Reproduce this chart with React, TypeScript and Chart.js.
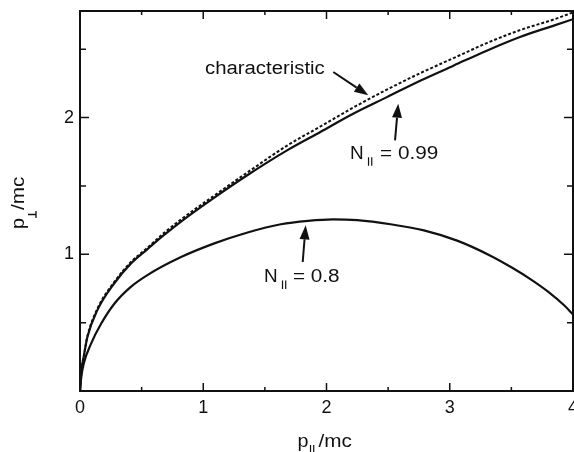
import React, { useEffect, useRef } from "react";
import { Chart, registerables } from "chart.js";

Chart.register(...registerables);

// N_|| = 0.8 resonance curve
const n08X = [0, 0.01, 0.03, 0.09, 0.17, 0.28, 0.41, 0.55, 0.82, 1.09, 1.36, 1.63, 1.85, 2.05, 2.25, 2.52, 2.79, 3.06, 3.33, 3.5, 3.66, 3.8, 3.93, 4.0];
const n08Y = [0, 0.1, 0.2, 0.347, 0.49, 0.64, 0.76, 0.85, 0.98, 1.08, 1.16, 1.22, 1.245, 1.256, 1.25, 1.22, 1.175, 1.1, 0.99, 0.905, 0.815, 0.725, 0.625, 0.56];

// N_|| = 0.99 resonance curve
const n099X = [0, 0.01, 0.03, 0.06, 0.14, 0.28, 0.41, 0.55, 0.68, 0.82, 1.09, 1.36, 1.68, 1.95, 2.22, 2.49, 2.76, 3.03, 3.3, 3.57, 3.85, 4.0];
const n099Y = [0, 0.14, 0.25, 0.395, 0.59, 0.79, 0.93, 1.04, 1.14, 1.24, 1.415, 1.58, 1.76, 1.895, 2.03, 2.15, 2.27, 2.38, 2.49, 2.59, 2.675, 2.72];

// characteristic (dashed)
const charX = [0, 0.01, 0.03, 0.06, 0.14, 0.28, 0.41, 0.55, 0.68, 0.82, 1.09, 1.36, 1.68, 1.95, 2.22, 2.49, 2.76, 3.03, 3.3, 3.57, 3.85, 4.0];
const charY = [0, 0.14, 0.25, 0.4, 0.6, 0.8, 0.94, 1.05, 1.155, 1.255, 1.43, 1.6, 1.795, 1.935, 2.075, 2.205, 2.325, 2.435, 2.545, 2.64, 2.72, 2.77];

// axes
const xMin = 0;
const xMax = 4;
const yMin = 0;
const yMax = 2.78;
const tickStep = 0.5;
const xTickLabels = ["0", "1", "2", "3", "4"];
const yTickLabels = ["1", "2"];

// annotations (data coordinates)
const annCharText = "characteristic";
const annCharPos = [1.014, 2.322];
const annCharArrow = [2.055, 2.334, 2.339, 2.163];
const ann099Text = "= 0.99";
const ann099Pos = [2.191, 1.7];
const ann099Arrow = [2.556, 1.834, 2.582, 2.102];
const ann08Text = "= 0.8";
const ann08Pos = [1.493, 0.797];
const ann08Arrow = [1.807, 0.944, 1.831, 1.212];

const FONT = '"Liberation Sans", Arial, Helvetica, sans-serif';
const INK = "#111";

function zip(xs: number[], ys: number[]) {
  return xs.map((x, i) => ({ x, y: ys[i] }));
}

function txt(ctx: CanvasRenderingContext2D, s: string, x: number, y: number, size: number, sx = 1) {
  ctx.save();
  ctx.font = `${size}px ${FONT}`;
  ctx.textAlign = "left";
  ctx.textBaseline = "alphabetic";
  ctx.translate(x, y);
  ctx.scale(sx, 1);
  ctx.fillText(s, 0, 0);
  const w = ctx.measureText(s).width * sx;
  ctx.restore();
  return w;
}

function arrow(ctx: CanvasRenderingContext2D, x1: number, y1: number, x2: number, y2: number) {
  const ang = Math.atan2(y2 - y1, x2 - x1);
  const hl = 14;
  const hw = 5;
  const bx = x2 - hl * Math.cos(ang);
  const by = y2 - hl * Math.sin(ang);
  ctx.beginPath();
  ctx.moveTo(x1, y1);
  ctx.lineTo(bx, by);
  ctx.lineWidth = 2;
  ctx.stroke();
  ctx.beginPath();
  ctx.moveTo(x2, y2);
  ctx.lineTo(bx + hw * Math.sin(ang), by - hw * Math.cos(ang));
  ctx.lineTo(bx - hw * Math.sin(ang), by + hw * Math.cos(ang));
  ctx.closePath();
  ctx.fill();
}

function parBars(ctx: CanvasRenderingContext2D, x: number, y: number) {
  ctx.save();
  ctx.lineWidth = 1.2;
  ctx.beginPath();
  ctx.moveTo(x, y - 1.5);
  ctx.lineTo(x, y + 7);
  ctx.moveTo(x + 3.2, y - 1.5);
  ctx.lineTo(x + 3.2, y + 7);
  ctx.stroke();
  ctx.restore();
}

const decorPlugin = {
  id: "decor",
  afterDraw(chart: any) {
    const { ctx, chartArea: a, scales } = chart;
    const xs = scales.x;
    const ys = scales.y;
    ctx.save();
    ctx.strokeStyle = INK;
    ctx.fillStyle = INK;
    // frame
    ctx.lineWidth = 2;
    ctx.strokeRect(a.left, a.top, a.right - a.left, a.bottom - a.top);
    // inward ticks
    ctx.lineWidth = 1.5;
    const isInt = (v: number) => Math.abs(v - Math.round(v)) < 1e-6;
    const onStep = (v: number) => Math.abs(v / tickStep - Math.round(v / tickStep)) < 1e-6;
    xs.ticks.forEach((t: any) => {
      if (!onStep(t.value)) return;
      const px = xs.getPixelForValue(t.value);
      const len = isInt(t.value) ? 8 : 4;
      ctx.beginPath();
      ctx.moveTo(px, a.bottom);
      ctx.lineTo(px, a.bottom - len);
      ctx.moveTo(px, a.top);
      ctx.lineTo(px, a.top + len);
      ctx.stroke();
    });
    ys.ticks.forEach((t: any) => {
      if (!onStep(t.value)) return;
      const py = ys.getPixelForValue(t.value);
      const len = isInt(t.value) ? 9 : 6;
      ctx.beginPath();
      ctx.moveTo(a.left, py);
      ctx.lineTo(a.left + len, py);
      ctx.moveTo(a.right, py);
      ctx.lineTo(a.right - len, py);
      ctx.stroke();
    });

    const P = (x: number, y: number) => [xs.getPixelForValue(x), ys.getPixelForValue(y)];

    // characteristic annotation
    let [tx, ty] = P(annCharPos[0], annCharPos[1]);
    txt(ctx, annCharText, tx, ty, 18, 1.13);
    let [ax1, ay1] = P(annCharArrow[0], annCharArrow[1]);
    let [ax2, ay2] = P(annCharArrow[2], annCharArrow[3]);
    arrow(ctx, ax1, ay1, ax2, ay2);

    // N|| = 0.99
    [tx, ty] = P(ann099Pos[0], ann099Pos[1]);
    txt(ctx, "N", tx, ty, 18, 1.05);
    parBars(ctx, tx + 18.5, ty);
    txt(ctx, ann099Text, tx + 30, ty, 18, 1.15);
    [ax1, ay1] = P(ann099Arrow[0], ann099Arrow[1]);
    [ax2, ay2] = P(ann099Arrow[2], ann099Arrow[3]);
    arrow(ctx, ax1, ay1, ax2, ay2);

    // N|| = 0.8
    [tx, ty] = P(ann08Pos[0], ann08Pos[1]);
    txt(ctx, "N", tx, ty, 18, 1.05);
    parBars(ctx, tx + 18.5, ty);
    txt(ctx, ann08Text, tx + 29, ty, 18, 1.15);
    [ax1, ay1] = P(ann08Arrow[0], ann08Arrow[1]);
    [ax2, ay2] = P(ann08Arrow[2], ann08Arrow[3]);
    arrow(ctx, ax1, ay1, ax2, ay2);

    // x title: p||/mc
    const cx = (a.left + a.right) / 2;
    const xb = a.bottom + 56;
    const sx0 = cx - 29;
    const wp = txt(ctx, "p", sx0, xb, 18, 1.1);
    parBars(ctx, sx0 + wp + 2, xb - 0.5);
    txt(ctx, "/mc", sx0 + wp + 10, xb, 18, 1.15);

    // y title: p⊥/mc (rotated)
    const cy = (a.top + a.bottom) / 2;
    ctx.save();
    ctx.translate(a.left - 56, cy + 28);
    ctx.rotate(-Math.PI / 2);
    const wp2 = txt(ctx, "p", 0, 0, 18, 1.1);
    ctx.lineWidth = 1.3;
    ctx.beginPath();
    const ux = wp2 + 3.5;
    ctx.moveTo(ux, 4);
    ctx.lineTo(ux, 12);
    ctx.moveTo(ux - 3.5, 12);
    ctx.lineTo(ux + 3.5, 12);
    ctx.stroke();
    txt(ctx, "/mc", wp2 + 8, 0, 18, 1.15);
    ctx.restore();

    ctx.restore();
  },
};

export default function App() {
  const ref = useRef<HTMLCanvasElement | null>(null);
  useEffect(() => {
    document.body.style.margin = "0";
    const canvas = ref.current;
    if (!canvas) return;
    const lineBase = {
      borderColor: INK,
      borderWidth: 2.2,
      pointRadius: 0,
      fill: false,
      cubicInterpolationMode: "monotone" as const,
    };
    const chart = new Chart(canvas, {
      type: "line",
      data: {
        datasets: [
          { ...lineBase, label: "N|| = 0.8", data: zip(n08X, n08Y) },
          { ...lineBase, label: "N|| = 0.99", data: zip(n099X, n099Y) },
          { ...lineBase, label: "characteristic", data: zip(charX, charY), borderDash: [3, 2], borderWidth: 2 },
        ],
      },
      options: {
        animation: false,
        responsive: true,
        maintainAspectRatio: false,
        layout: { padding: { top: 11, right: 1, left: 0, bottom: 0 } },
        plugins: { legend: { display: false }, tooltip: { enabled: false } },
        scales: {
          x: {
            type: "linear",
            min: xMin,
            max: xMax,
            grid: { display: false, drawTicks: false },
            border: { display: false },
            ticks: {
              stepSize: tickStep,
              autoSkip: false,
              maxRotation: 0,
              padding: 6,
              color: INK,
              font: { family: FONT, size: 18 },
              callback: (v: any) => {
                const s = String(v);
                return xTickLabels.includes(s) ? s : "";
              },
            },
            afterFit: (s: any) => {
              s.height = 61;
              s.paddingLeft = 0;
              s.paddingRight = 0;
            },
          },
          y: {
            type: "linear",
            min: yMin,
            max: yMax,
            grid: { display: false, drawTicks: false },
            border: { display: false },
            ticks: {
              stepSize: tickStep,
              autoSkip: false,
              padding: 6,
              color: INK,
              font: { family: FONT, size: 18 },
              callback: (v: any) => {
                const s = String(v);
                return yTickLabels.includes(s) ? s : "";
              },
            },
            afterFit: (s: any) => {
              s.width = 80;
              s.paddingTop = 0;
              s.paddingBottom = 0;
            },
          },
        },
      },
      plugins: [decorPlugin],
    });
    return () => chart.destroy();
  }, []);
  return (
    <div style={{ width: 574, height: 452, position: "relative", background: "#fff" }}>
      <canvas ref={ref} />
    </div>
  );
}
